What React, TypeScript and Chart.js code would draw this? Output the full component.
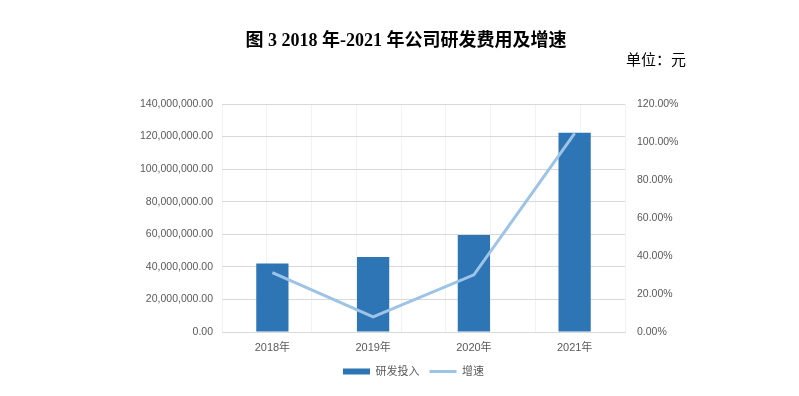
import React, { useEffect, useRef } from "react";
import { Chart, registerables } from "chart.js";

Chart.register(...registerables);

const categories = ["2018年", "2019年", "2020年", "2021年"];
const rdInvestment = [42100000, 46100000, 59600000, 122300000];
const growthRate = [31.3, 7.9, 30.1, 104.5];
const seriesNames = ["研发投入", "增速"];
const titleText = "图 3 2018 年-2021 年公司研发费用及增速";
const unitText = "单位：元";

const FONT = "'Liberation Sans', 'Noto Sans CJK SC', sans-serif";
const TICK_COLOR = "#595959";

export default function App() {
  const ref = useRef<HTMLCanvasElement | null>(null);

  useEffect(() => {
    if (!ref.current) return;
    const chart = new Chart(ref.current, {
      type: "bar",
      data: {
        labels: categories,
        datasets: [
          {
            type: "bar",
            label: seriesNames[0],
            data: rdInvestment,
            backgroundColor: "#2E75B6",
            borderWidth: 0,
            yAxisID: "y",
            xAxisID: "x",
            categoryPercentage: 1,
            barPercentage: 0.32,
            pointStyle: "rect",
            order: 2,
          } as any,
          {
            type: "line",
            label: seriesNames[1],
            data: growthRate,
            borderColor: "#9DC3E6",
            backgroundColor: "#9DC3E6",
            borderWidth: 3,
            pointRadius: 0,
            pointHoverRadius: 0,
            pointStyle: "line",
            tension: 0,
            yAxisID: "y1",
            xAxisID: "x",
            order: 1,
          } as any,
        ],
      },
      options: {
        responsive: false,
        animation: false,
        layout: { padding: { left: 28, right: 0, top: 104, bottom: 9 } },
        plugins: {
          title: { display: false },
          tooltip: { enabled: false },
          legend: {
            display: true,
            position: "bottom",
            labels: {
              usePointStyle: true,
              pointStyleWidth: 27,
              boxHeight: 6,
              padding: 10,
              color: TICK_COLOR,
              font: { size: 11, family: FONT },
              sort: (a: any, b: any) => a.datasetIndex - b.datasetIndex,
            },
          },
        },
        scales: {
          x: {
            type: "category",
            position: "bottom",
            offset: true,
            grid: { display: false },
            border: { display: true, color: "#D9D9D9" },
            ticks: {
              color: TICK_COLOR,
              font: { size: 11, family: FONT },
              padding: 1,
            },
            afterFit: (s: any) => {
              s.height = 24;
            },
          },
          xg: {
            type: "linear",
            position: "bottom",
            min: 0,
            max: 8,
            ticks: { display: false, stepSize: 1 },
            grid: { color: "#F2F2F2", drawTicks: false },
            border: { display: false },
            afterFit: (s: any) => {
              s.height = 0;
            },
          },
          y: {
            type: "linear",
            position: "left",
            min: 0,
            max: 140000000,
            ticks: {
              stepSize: 20000000,
              color: TICK_COLOR,
              font: { size: 10.5, family: FONT },
              padding: 9,
              callback: (v: any) =>
                Number(v).toLocaleString("en-US", {
                  minimumFractionDigits: 2,
                  maximumFractionDigits: 2,
                }),
            },
            grid: { color: "#D9D9D9", drawTicks: false },
            border: { display: false },
            afterFit: (s: any) => {
              s.width = 222 - 28;
            },
          },
          y1: {
            type: "linear",
            position: "right",
            min: 0,
            max: 120,
            ticks: {
              stepSize: 20,
              color: TICK_COLOR,
              font: { size: 10.5, family: FONT },
              padding: 12,
              callback: (v: any) => Number(v).toFixed(2) + "%",
            },
            grid: { display: false, drawTicks: false },
            border: { display: false },
            afterFit: (s: any) => {
              s.width = 799 - 625;
            },
          },
        },
      } as any,
    });
    return () => chart.destroy();
  }, []);

  return (
    <div
      style={{
        position: "absolute",
        left: 0,
        top: 0,
        width: 799,
        height: 396,
        background: "#ffffff",
        overflow: "hidden",
      }}
    >
      <canvas ref={ref} width={799} height={396} style={{ position: "absolute", left: 0, top: 0 }} />
      <div
        style={{
          position: "absolute",
          left: 0,
          width: 812,
          top: 28,
          textAlign: "center",
          fontFamily: "'Liberation Serif', 'Noto Sans CJK SC', serif",
          fontWeight: "bold",
          fontSize: 18,
          lineHeight: "24px",
          color: "#000",
        }}
      >
        {titleText}
      </div>
      <div
        style={{
          position: "absolute",
          right: 113,
          top: 49,
          fontFamily: "'Noto Sans CJK SC', serif",
          fontSize: 15,
          lineHeight: "20px",
          color: "#000",
        }}
      >
        {unitText}
      </div>
    </div>
  );
}
